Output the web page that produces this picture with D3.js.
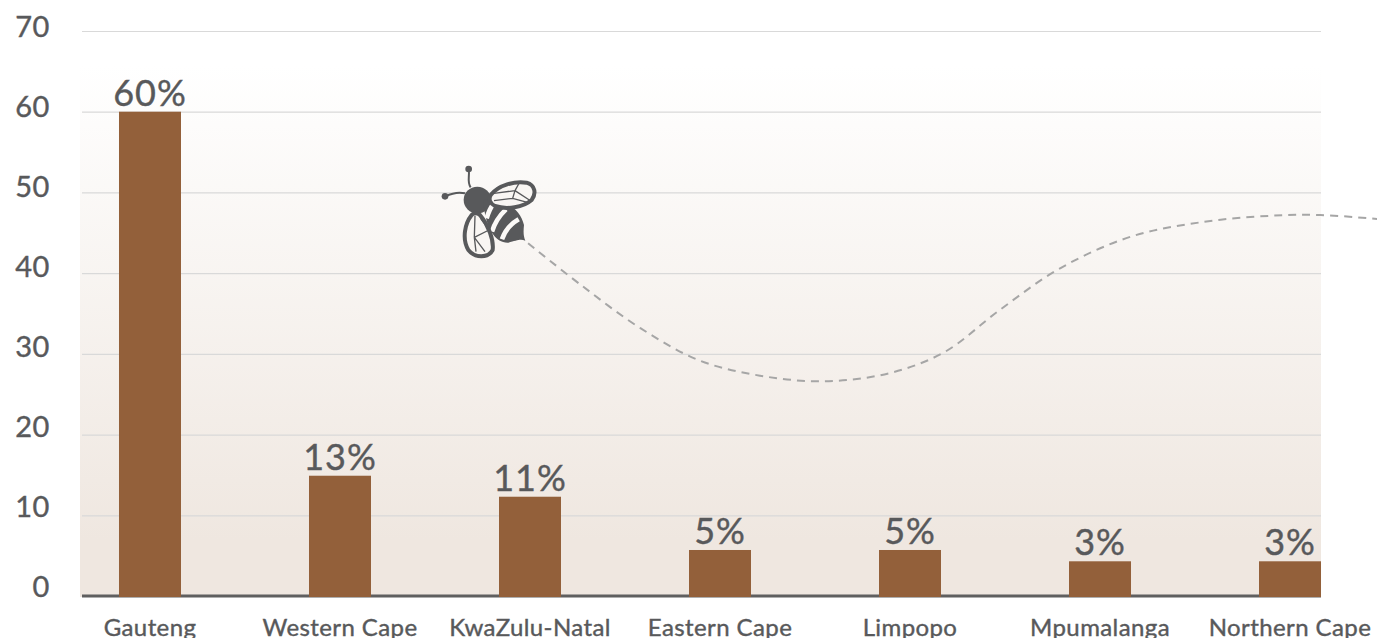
<!DOCTYPE html>
<html>
<head>
<meta charset="utf-8">
<script src="https://cdn.jsdelivr.net/npm/d3@7"></script>
<style>
  html, body { margin: 0; background: #fff; overflow: hidden; }
  text { font-family: Lato, "Open Sans", sans-serif; fill: #58595b; stroke: #58595b; stroke-width: 0.4px; }
</style>
</head>
<body>
<div id="chart"></div>
<script>
const categories = ["Gauteng", "Western Cape", "KwaZulu-Natal", "Eastern Cape", "Limpopo", "Mpumalanga", "Northern Cape"]
const barValues = [60, 14.9, 12.3, 5.7, 5.7, 4.3, 4.3]
const barLabels = ["60%", "13%", "11%", "5%", "5%", "3%", "3%"]
const yTicks = [0, 10, 20, 30, 40, 50, 60, 70]

// bee trail, x in category steps from the first bar, y in axis units
const trailSteps = [1.99, 2.27, 2.58, 2.89, 3.21, 3.55, 3.89, 4.18, 4.47, 4.79, 5.16, 5.53, 5.89, 6.16, 6.46]
const trailValues = [43.7, 38.5, 33.2, 29.2, 27.3, 26.6, 27.6, 30.2, 35.4, 40.6, 44.5, 46.3, 47.1, 47.2, 46.7]

const width = 1377
const height = 638
const plotLeft = 82
const plotRight = 1321
const plotTop = 31
const plotBottom = 596

const svg = d3.select("#chart").append("svg")
    .attr("width", width)
    .attr("height", height)
    .style("display", "block")

const grad = svg.append("defs").append("linearGradient")
    .attr("id", "plotBg")
    .attr("x1", 0).attr("x2", 0).attr("y1", 0).attr("y2", 1)
grad.append("stop").attr("offset", "0.06").attr("stop-color", "#ffffff")
grad.append("stop").attr("offset", "0.9").attr("stop-color", "#efe7e0")

svg.append("rect")
    .attr("x", plotLeft - 2)
    .attr("y", plotTop)
    .attr("width", plotRight - plotLeft + 2)
    .attr("height", plotBottom - plotTop + 1)
    .attr("fill", "url(#plotBg)")

const x = d3.scaleBand()
    .domain(categories)
    .range([55, 1385])
    .paddingInner(0.6737)
    .paddingOuter(0.3368)

const y = d3.scaleLinear().domain([0, 70]).range([plotBottom, plotTop])

// tick labels run on a slightly tighter spacing than the gridlines
const yLabel = d3.scaleLinear().domain([0, 70]).range([586, 26])

// y axis with the gridlines
const yAxis = svg.append("g")
    .attr("transform", `translate(${plotLeft},0)`)
    .call(d3.axisLeft(y).tickValues(yTicks).tickSize(-(plotRight - plotLeft)).tickPadding(32))
yAxis.select(".domain").remove()
yAxis.selectAll("line").attr("stroke", "#d9d9d9").attr("stroke-width", 1.2)
yAxis.selectAll("text")
    .style("font-size", "29px")
    .style("letter-spacing", "0.6px")
    .attr("dy", "0.35em")
    .attr("y", d => yLabel(d) - y(d))

// bee trail
const trailX = d3.scaleLinear().domain([0, 1]).range([x(categories[0]) + x.bandwidth() / 2, x(categories[1]) + x.bandwidth() / 2])
const trail = d3.line()
    .x((d, i) => trailX(trailSteps[i]))
    .y(d => y(d))
    .curve(d3.curveCatmullRom)
svg.append("path")
    .attr("d", trail(trailValues))
    .attr("fill", "none")
    .attr("stroke", "#a6a6a6")
    .attr("stroke-width", 2)
    .attr("stroke-dasharray", "8 6")

// baseline sits behind the bars
svg.append("line")
    .attr("x1", plotLeft).attr("x2", plotRight)
    .attr("y1", plotBottom).attr("y2", plotBottom)
    .attr("stroke", "#5f5f5f")
    .attr("stroke-width", 3)

// bars
svg.selectAll("rect.bar")
    .data(barValues)
    .enter()
    .append("rect")
    .attr("class", "bar")
    .attr("x", (d, i) => x(categories[i]))
    .attr("y", d => y(d))
    .attr("width", x.bandwidth())
    .attr("height", d => plotBottom + 1 - y(d))
    .attr("fill", "#93603a")

svg.selectAll("text.val")
    .data(barValues)
    .enter()
    .append("text")
    .attr("class", "val")
    .attr("x", (d, i) => x(categories[i]) + x.bandwidth() / 2)
    .attr("y", d => y(d) - 6)
    .attr("text-anchor", "middle")
    .style("font-size", "36px")
    .style("letter-spacing", "1px")
    .text((d, i) => barLabels[i])

// category labels
const xAxis = svg.append("g")
    .attr("transform", `translate(0,${plotBottom})`)
    .call(d3.axisBottom(x).tickSize(0).tickPadding(23))
xAxis.select(".domain").remove()
xAxis.selectAll("text")
    .style("font-size", "24px")
    .style("letter-spacing", "0.4px")

// bee, drawn on a 3x grid
const bee = svg.append("g")
    .attr("transform", "translate(420,150) scale(0.3333)")
const beeDark = "#58595b"

bee.append("path")
    .attr("d", "M152,112 C140,95 150,80 146,58 M135,130 C115,125 95,130 76,139")
    .attr("fill", "none").attr("stroke", beeDark).attr("stroke-width", 6)
bee.append("circle").attr("cx", 146).attr("cy", 57).attr("r", 10).attr("fill", beeDark)
bee.append("circle").attr("cx", 75).attr("cy", 139).attr("r", 10).attr("fill", beeDark)
bee.append("ellipse")
    .attr("cx", 172).attr("cy", 150).attr("rx", 41).attr("ry", 40)
    .attr("fill", beeDark)

// body with stinger
bee.append("path")
    .attr("d", "M190,150 C240,140 300,170 312,225 C310,245 310,258 316,272 C300,266 290,272 265,278 C230,280 195,240 190,150 Z")
    .attr("fill", beeDark)
bee.append("path")
    .attr("d", "M222,160 C212,172 205,188 200,205 M258,178 C240,195 225,215 216,245 M296,208 C272,222 255,240 246,268")
    .attr("fill", "none").attr("stroke", "#fbf9f7").attr("stroke-width", 14)

// wings
const wingFill = "#f9f6f3"
bee.append("path")
    .attr("d", "M212,135 C235,105 285,92 320,98 C345,105 350,130 335,150 C310,172 260,180 225,168 C210,160 205,148 212,135 Z")
    .attr("fill", wingFill).attr("stroke", beeDark).attr("stroke-width", 12)
bee.append("path")
    .attr("d", "M222,130 L285,122 L296,102 M285,122 L278,145 M222,152 L278,145 L325,158 M285,122 L328,150")
    .attr("fill", "none").attr("stroke", beeDark).attr("stroke-width", 4)
bee.append("path")
    .attr("d", "M155,195 C135,220 125,265 145,300 C165,325 205,325 218,300 C222,270 205,225 180,195 C170,188 160,190 155,195 Z")
    .attr("fill", wingFill).attr("stroke", beeDark).attr("stroke-width", 12)
bee.append("path")
    .attr("d", "M165,197 L163,262 L195,305 M163,262 L207,240 M182,205 L207,240 M163,262 L168,305")
    .attr("fill", "none").attr("stroke", beeDark).attr("stroke-width", 4)
</script>
</body>
</html>
